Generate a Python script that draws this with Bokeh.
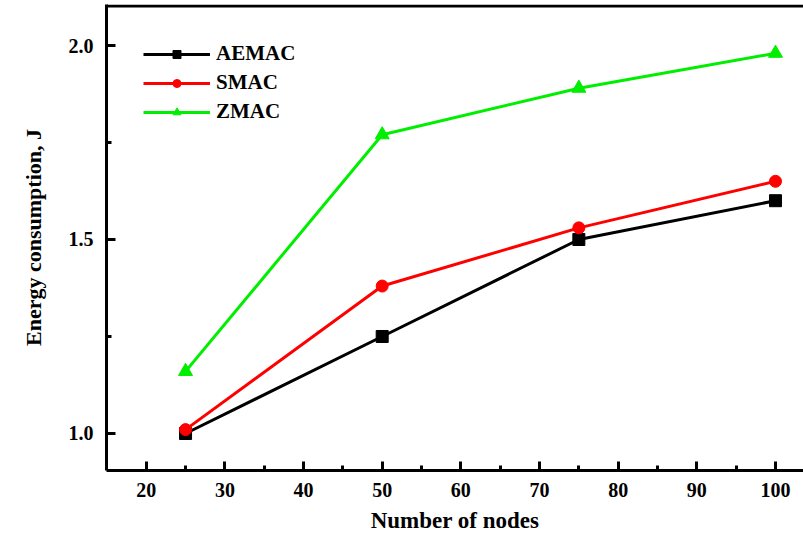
from bokeh.plotting import figure
from bokeh.models import Range1d, FixedTicker, Legend, LegendItem, Span, PrintfTickFormatter
from bokeh.embed import file_html
from bokeh.resources import INLINE

nodes = [25, 50, 75, 100]
aemac = [1.00, 1.25, 1.50, 1.60]
smac = [1.01, 1.38, 1.53, 1.65]
zmac = [1.16, 1.77, 1.89, 1.98]

x_ticks = [20, 30, 40, 50, 60, 70, 80, 90, 100]
x_minor = [25, 35, 45, 55, 65, 75, 85, 95]
y_ticks = [1.0, 1.5, 2.0]
y_minor = [1.25, 1.75]

FONT = "Liberation Serif"
Y_END = 2.1057

p = figure(width=803, height=537, output_backend="svg", toolbar_location=None,
           x_range=Range1d(14.95, 103.56), y_range=Range1d(0.9046, Y_END),
           min_border_left=106, min_border_right=0, min_border_top=4, min_border_bottom=67)
p.background_fill_color = "white"
p.border_fill_color = "white"
p.outline_line_color = None
p.xgrid.visible = False
p.ygrid.visible = False

# top border line of the frame
p.add_layout(Span(location=Y_END - 1.5 / 388, dimension="width", line_color="black", line_width=3))

xa = p.below[0]
ya = p.left[0]
for ax in (xa, ya):
    ax.axis_line_width = 3
    ax.axis_line_color = "black"
    ax.major_tick_in = 9
    ax.major_tick_out = 0
    ax.minor_tick_in = 5
    ax.minor_tick_out = 0
    ax.major_tick_line_width = 3
    ax.minor_tick_line_width = 3
    ax.major_label_text_font = FONT
    ax.major_label_text_font_style = "bold"
    ax.major_label_text_font_size = "20px"
    ax.major_label_text_color = "black"
    ax.axis_label_text_font = FONT
    ax.axis_label_text_font_style = "bold"
    ax.axis_label_text_color = "black"

xa.axis_label_text_font_size = "23px"
ya.axis_label_text_font_size = "22px"
xa.ticker = FixedTicker(ticks=x_ticks, minor_ticks=x_minor)
ya.ticker = FixedTicker(ticks=y_ticks, minor_ticks=y_minor)
ya.formatter = PrintfTickFormatter(format="%.1f")
xa.major_label_standoff = 12
ya.major_label_standoff = 13
xa.axis_label = "Number of nodes"
ya.axis_label = "Energy consumption, J"
xa.axis_label_standoff = 8
ya.axis_label_standoff = 20

series = [("AEMAC", aemac, "black", "square", 12),
          ("SMAC", smac, "#ff0000", "circle", 12),
          ("ZMAC", zmac, "#00ee00", "triangle", 14)]
items = []
for name, vals, color, marker, size in series:
    l = p.line(nodes, vals, line_color=color, line_width=3)
    m = p.scatter(nodes, vals, marker=marker, size=size, fill_color=color, line_color=color)
    items.append(LegendItem(label=name, renderers=[l, m]))

legend = Legend(items=items, location="top_left")
legend.margin = 37
legend.padding = 9
legend.glyph_width = 67
legend.glyph_height = 20
legend.label_height = 20
legend.spacing = 4
legend.label_standoff = 6
legend.border_line_color = None
legend.background_fill_alpha = 0
legend.label_text_font = FONT
legend.label_text_font_style = "bold"
legend.label_text_font_size = "21px"
legend.label_text_color = "black"
p.add_layout(legend)

open("out.html", "w").write(file_html(p, INLINE))
